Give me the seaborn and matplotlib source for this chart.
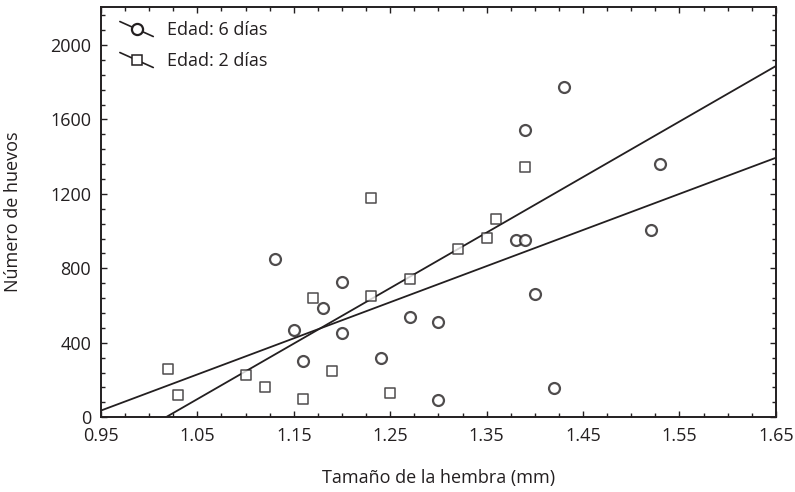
import numpy as np
import pandas as pd
import matplotlib
matplotlib.use('Agg')
import matplotlib.pyplot as plt
import seaborn as sns
from matplotlib.lines import Line2D
from matplotlib.legend_handler import HandlerBase
from matplotlib.ticker import MultipleLocator

# Datos
tam_6dias = [1.13, 1.15, 1.16, 1.18, 1.20, 1.20, 1.24, 1.27, 1.30, 1.30,
             1.38, 1.39, 1.39, 1.40, 1.42, 1.43, 1.52, 1.53]
huevos_6dias = [850, 470, 300, 585, 725, 450, 320, 540, 510, 90,
                950, 1545, 950, 660, 155, 1775, 1005, 1360]

tam_2dias = [1.02, 1.03, 1.10, 1.12, 1.16, 1.17, 1.19, 1.23, 1.23, 1.25,
             1.27, 1.32, 1.35, 1.36, 1.39]
huevos_2dias = [260, 120, 225, 160, 100, 640, 250, 1180, 650, 130,
                745, 905, 965, 1065, 1345]

x_ticks = [0.95, 1.05, 1.15, 1.25, 1.35, 1.45, 1.55, 1.65]
y_ticks = [0, 400, 800, 1200, 1600, 2000]

INK = '#231f20'

sns.set_style('ticks')
plt.rcParams['font.family'] = ['Open Sans', 'DejaVu Sans']
plt.rcParams['text.color'] = INK
plt.rcParams['axes.labelcolor'] = INK
plt.rcParams['xtick.color'] = INK
plt.rcParams['ytick.color'] = INK

fig = plt.figure(figsize=(7.95, 4.92), dpi=100)
ax = fig.add_axes([0.127, 0.152, 0.849, 0.834])
# limites antes de regplot para que las rectas cubran todo el eje
ax.set_xlim(0.95, 1.65)
ax.set_ylim(0, 2205)

# Edad: 6 dias (circulos)
sns.regplot(x=tam_6dias, y=huevos_6dias, ax=ax, ci=None, truncate=False, marker='o', color=INK,
            scatter_kws={'s': 62, 'facecolors': 'white', 'edgecolors': INK, 'linewidths': 1.6, 'zorder': 3},
            line_kws={'lw': 1.3, 'zorder': 2})

# Edad: 2 dias (cuadrados)
sns.regplot(x=tam_2dias, y=huevos_2dias, ax=ax, ci=None, truncate=False, marker='s', color=INK,
            scatter_kws={'s': 45, 'facecolors': 'white', 'edgecolors': INK, 'linewidths': 1.1, 'zorder': 3},
            line_kws={'lw': 1.3, 'zorder': 2})

ax.set_xlim(0.95, 1.65)
ax.set_ylim(0, 2205)
ax.set_xticks(x_ticks)
ax.set_xticklabels([f'{t:.2f}' for t in x_ticks])
ax.set_yticks(y_ticks)
ax.xaxis.set_minor_locator(MultipleLocator(0.025))
ax.yaxis.set_minor_locator(MultipleLocator(80))
ax.tick_params(which='both', direction='in', top=True, right=True, width=1.0, labelsize=13)
ax.tick_params(which='major', length=4, pad=7)
ax.tick_params(which='minor', length=3)
for s in ax.spines.values():
    s.set_linewidth(1.4)
    s.set_color(INK)

ax.set_xlabel('Tamaño de la hembra (mm)', fontsize=13, labelpad=17)
ax.set_ylabel('Número de huevos', fontsize=13, labelpad=20)


# marcador de leyenda con linea diagonal
class DiagHandler(HandlerBase):
    def create_artists(self, legend, orig_handle, xdescent, ydescent, width, height, fontsize, trans):
        x0, y0 = -xdescent, -ydescent
        seg = Line2D([x0, x0 + width], [y0 + height, y0], color=INK, lw=1.2, transform=trans)
        mk = Line2D([x0 + width / 2], [y0 + height / 2], ls='none', marker=orig_handle.get_marker(),
                    markersize=orig_handle.get_markersize(), markerfacecolor='white',
                    markeredgecolor=INK, markeredgewidth=orig_handle.get_markeredgewidth(),
                    transform=trans)
        return [seg, mk]


h6 = Line2D([], [], marker='o', markersize=8, markeredgewidth=1.6)
h2 = Line2D([], [], marker='s', markersize=7, markeredgewidth=1.1)
ax.legend([h6, h2], ['Edad: 6 días', 'Edad: 2 días'], handler_map={Line2D: DiagHandler()},
          loc='upper left', bbox_to_anchor=(0.028, 0.965), frameon=False, fontsize=13,
          borderpad=0, borderaxespad=0, handlelength=1.85, handleheight=0.9,
          handletextpad=0.75, labelspacing=0.72)

fig.savefig('out.png', dpi=100)
